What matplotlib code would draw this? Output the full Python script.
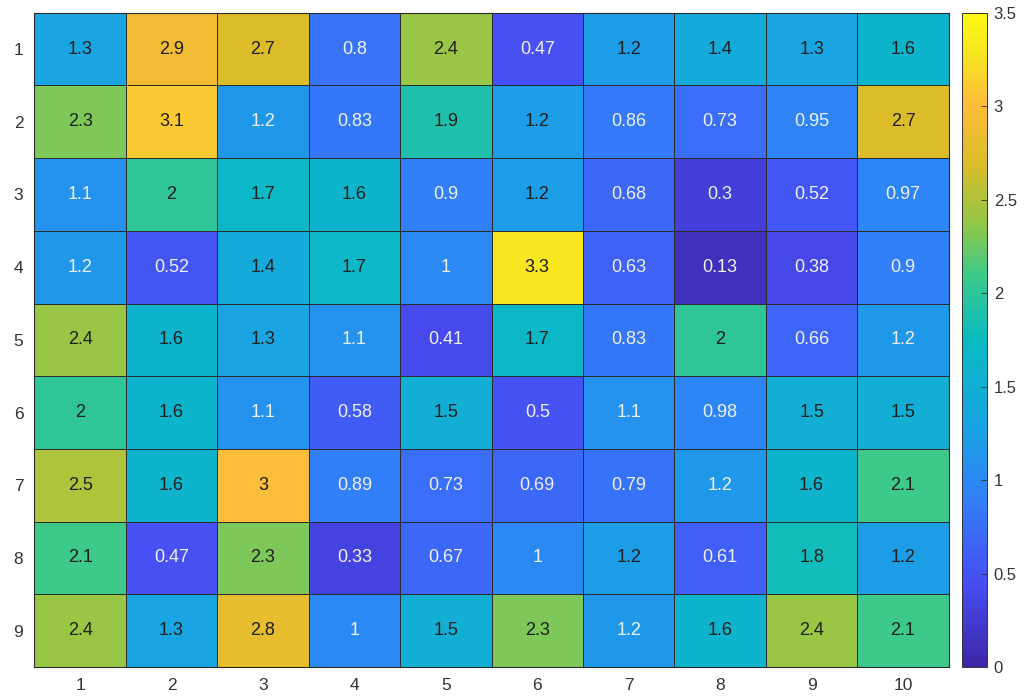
import numpy as np
import matplotlib
matplotlib.use("Agg")
import matplotlib.pyplot as plt
from matplotlib.colors import LinearSegmentedColormap

plt.rcParams['font.family'] = ['Liberation Sans', 'DejaVu Sans']

# --- data (rows 1..9, columns 1..10) ---
row_labels = ['1', '2', '3', '4', '5', '6', '7', '8', '9']
col_labels = ['1', '2', '3', '4', '5', '6', '7', '8', '9', '10']
values = np.array([
    [1.3, 2.9, 2.7, 0.8, 2.4, 0.47, 1.23, 1.4, 1.3, 1.6],
    [2.3, 3.1, 1.17, 0.83, 1.9, 1.23, 0.86, 0.73, 0.95, 2.7],
    [1.1, 2.0, 1.7, 1.6, 0.9, 1.23, 0.68, 0.3, 0.52, 0.97],
    [1.17, 0.52, 1.4, 1.7, 1.0, 3.3, 0.63, 0.13, 0.38, 0.9],
    [2.4, 1.6, 1.3, 1.1, 0.41, 1.7, 0.83, 2.0, 0.66, 1.17],
    [2.0, 1.6, 1.1, 0.58, 1.5, 0.5, 1.1, 0.98, 1.5, 1.5],
    [2.5, 1.6, 3.0, 0.89, 0.73, 0.69, 0.79, 1.17, 1.6, 2.1],
    [2.1, 0.47, 2.3, 0.33, 0.67, 1.0, 1.23, 0.61, 1.8, 1.23],
    [2.4, 1.3, 2.8, 1.0, 1.5, 2.3, 1.17, 1.6, 2.4, 2.1],
])
vmin, vmax = 0, 3.5
cbar_ticks = [0, 0.5, 1, 1.5, 2, 2.5, 3, 3.5]

# parula-like colormap
parula = LinearSegmentedColormap.from_list('parula', [
    (0.000, (0.2422, 0.1504, 0.6603)),
    (0.125, (0.2790, 0.3000, 0.9500)),
    (0.250, (0.2000, 0.4900, 0.9850)),
    (0.375, (0.0900, 0.6500, 0.8800)),
    (0.500, (0.0400, 0.7300, 0.7600)),
    (0.600, (0.2400, 0.7900, 0.5400)),
    (0.680, (0.5800, 0.7800, 0.2800)),
    (0.770, (0.8600, 0.7400, 0.1600)),
    (0.860, (0.9900, 0.7400, 0.2300)),
    (0.930, (0.9700, 0.8800, 0.1400)),
    (1.000, (0.9769, 0.9839, 0.0805)),
])

fig = plt.figure(figsize=(10.32, 6.96), dpi=100)
ax = fig.add_axes([0.0333, 0.0417, 0.886, 0.940])
cax = fig.add_axes([0.932, 0.0417, 0.0242, 0.940])

im = ax.pcolormesh(values, cmap=parula, vmin=vmin, vmax=vmax,
                   edgecolor='#2b2b2b', linewidth=0.7)
ax.set_xlim(0, len(col_labels))
ax.set_ylim(len(row_labels), 0)

for i in range(values.shape[0]):
    for j in range(values.shape[1]):
        v = values[i, j]
        ax.text(j + 0.5, i + 0.5, '%.2g' % v, ha='center', va='center',
                fontsize=13, color='#1f1f1f' if v > 1.2 else '#f0f0f2')

ax.set_xticks(np.arange(len(col_labels)) + 0.5)
ax.set_xticklabels(col_labels)
ax.set_yticks(np.arange(len(row_labels)) + 0.5)
ax.set_yticklabels(row_labels)
ax.tick_params(length=0, labelsize=12.5, labelcolor='#333333', pad=8)
for s in ax.spines.values():
    s.set_color('#2b2b2b')
    s.set_linewidth(0.8)

cb = fig.colorbar(im, cax=cax, ticks=cbar_ticks)
cb.ax.set_yticklabels(['0', '0.5', '1', '1.5', '2', '2.5', '3', '3.5'])
cb.ax.tick_params(direction='in', length=4, width=0.6, labelsize=12,
                  labelcolor='#333333', color='#333333', pad=5)
cb.outline.set_edgecolor('#333333')
cb.outline.set_linewidth(0.7)

plt.savefig('out.png', dpi=100)
